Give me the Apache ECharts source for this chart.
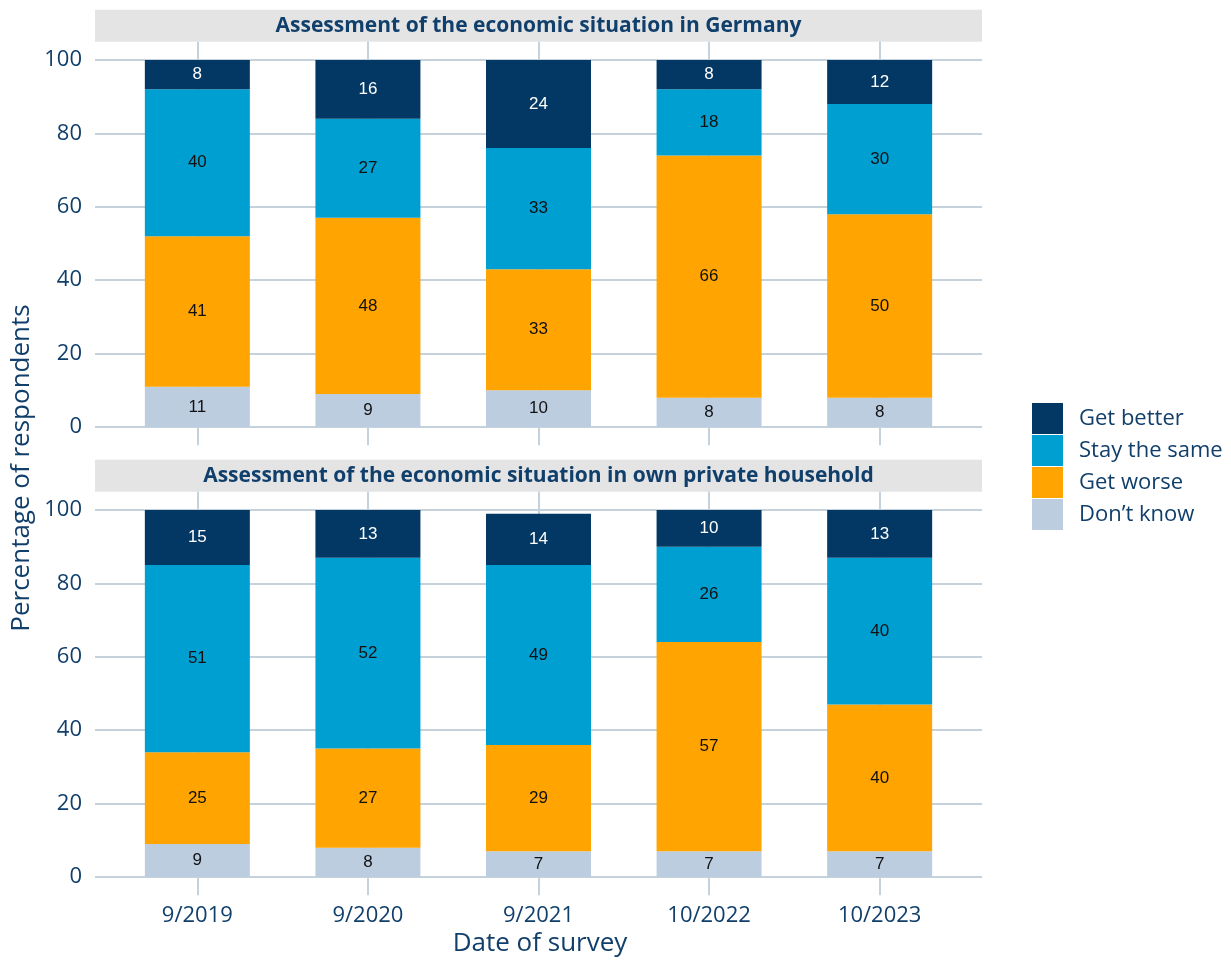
<!DOCTYPE html>
<html>
<head>
<meta charset="utf-8">
<script src="https://cdn.jsdelivr.net/npm/echarts@6/dist/echarts.min.js"></script>
<style>
  html, body { margin: 0; padding: 0; background: #ffffff; }
  #chart { width: 1231px; height: 963px; }
</style>
</head>
<body>
<div id="chart"></div>
<script>
// Survey waves and answer categories
const surveyDates = ['9/2019', '9/2020', '9/2021', '10/2022', '10/2023'];
const answerNames = ['Get better', 'Stay the same', 'Get worse', 'Don\u2019t know'];
const yTicks = [0, 20, 40, 60, 80, 100];
const xTicks = [0, 1, 2, 3, 4];
const panelTitles = [
  'Assessment of the economic situation in Germany',
  'Assessment of the economic situation in own private household'
];

// Economic situation in Germany (% of respondents)
const germanyBetter   = [8, 16, 24, 8, 12];
const germanySame     = [40, 27, 33, 18, 30];
const germanyWorse    = [41, 48, 33, 66, 50];
const germanyDontKnow = [11, 9, 10, 8, 8];

// Economic situation in own private household (% of respondents)
const householdBetter   = [15, 13, 14, 10, 13];
const householdSame     = [51, 52, 49, 26, 40];
const householdWorse    = [25, 27, 29, 57, 40];
const householdDontKnow = [9, 8, 7, 7, 7];

const colors = {
  'Get better': '#023863',
  'Stay the same': '#009fd2',
  'Get worse': '#ffa400',
  'Don\u2019t know': '#bdcde0'
};
const textColor = '#113f6b';
const gridColor = '#c6d2db';
const tickFont = 'Open Sans';

const panels = [
  { better: germanyBetter, same: germanySame, worse: germanyWorse, dontKnow: germanyDontKnow },
  { better: householdBetter, same: householdSame, worse: householdWorse, dontKnow: householdDontKnow }
];

// Panel geometry: y range -5..105, x range -0.6..4.6 (discrete padding of 0.6 band)
const panelLeft = 95, panelRight = 982;
const panelTops = [41.65, 491.65];
const panelHeight = 403.7;
const stripHeight = 32;
const band = (panelRight - panelLeft) / (xTicks.length + 0.2);

// Grids 0,1: panel frames with grid lines and tick labels
// Grids 2,3: category grids carrying the stacked bars, aligned to the frame bands
const grids = [];
panelTops.forEach(t => grids.push({
  left: panelLeft, width: panelRight - panelLeft, top: t, height: panelHeight
}));
panelTops.forEach(t => grids.push({
  left: panelLeft + 0.1 * band, width: band * xTicks.length, top: t, height: panelHeight
}));

const xAxes = [];
const yAxes = [];
panelTops.forEach((t, i) => {
  xAxes.push({
    type: 'value', gridIndex: i, min: -0.6, max: 4.6,
    axisLine: { show: false },
    axisTick: { show: false, customValues: xTicks },
    splitLine: { show: true, lineStyle: { color: gridColor, width: 2 } },
    axisLabel: {
      show: i === 1, customValues: xTicks, margin: 9,
      formatter: v => surveyDates[v],
      color: textColor, fontSize: 22, fontFamily: tickFont
    }
  });
  yAxes.push({
    type: 'value', gridIndex: i, min: -5, max: 105,
    axisLine: { show: false },
    axisTick: { show: false, customValues: yTicks },
    splitLine: { show: true, lineStyle: { color: gridColor, width: 2 } },
    axisLabel: {
      customValues: yTicks, margin: 13,
      color: textColor, fontSize: 22, fontFamily: tickFont
    }
  });
});
panelTops.forEach((t, i) => {
  xAxes.push({
    type: 'category', gridIndex: 2 + i, data: surveyDates, boundaryGap: true,
    axisLine: { show: false }, axisTick: { show: false },
    axisLabel: { show: false }, splitLine: { show: false }
  });
  yAxes.push({
    type: 'value', gridIndex: 2 + i, min: -5, max: 105,
    axisLine: { show: false }, axisTick: { show: false },
    axisLabel: { show: false }, splitLine: { show: false }
  });
});

function barSeries(name, values, panelIndex) {
  return {
    name: name, type: 'bar', stack: 'panel' + panelIndex,
    xAxisIndex: 2 + panelIndex, yAxisIndex: 2 + panelIndex,
    barWidth: 105,
    data: values,
    itemStyle: { color: colors[name] },
    label: {
      show: true, position: 'inside',
      color: name === 'Get better' ? '#ffffff' : '#111111',
      fontSize: 17, fontFamily: 'Liberation Sans'
    },
    emphasis: { disabled: true }
  };
}

const series = [];
panels.forEach((p, i) => {
  series.push(barSeries('Don\u2019t know', p.dontKnow, i));
  series.push(barSeries('Get worse', p.worse, i));
  series.push(barSeries('Stay the same', p.same, i));
  series.push(barSeries('Get better', p.better, i));
});

const graphics = [];
panelTops.forEach((t, i) => {
  graphics.push({
    type: 'rect', silent: true,
    shape: { x: panelLeft, y: t - stripHeight, width: panelRight - panelLeft, height: stripHeight },
    style: { fill: '#e4e4e4' }
  });
  graphics.push({
    type: 'text', silent: true,
    x: (panelLeft + panelRight) / 2, y: t - stripHeight / 2,
    style: {
      text: panelTitles[i], align: 'center', verticalAlign: 'middle',
      fill: textColor, font: 'bold 21px "Open Sans"'
    }
  });
});
graphics.push({
  type: 'text', silent: true, x: 22, y: 468, rotation: Math.PI / 2,
  style: {
    text: 'Percentage of respondents', align: 'center', verticalAlign: 'middle',
    fill: textColor, font: '26px "Open Sans"'
  }
});
graphics.push({
  type: 'text', silent: true, x: 540, y: 944,
  style: {
    text: 'Date of survey', align: 'center', verticalAlign: 'middle',
    fill: textColor, font: '26px "Open Sans"'
  }
});

const chart = echarts.init(document.getElementById('chart'), null, { renderer: 'canvas' });
chart.setOption({
  animation: false,
  backgroundColor: '#ffffff',
  grid: grids,
  xAxis: xAxes,
  yAxis: yAxes,
  legend: {
    data: answerNames,
    orient: 'vertical', left: 1032, top: 403,
    itemWidth: 31, itemHeight: 31, itemGap: 1, padding: 0,
    icon: 'rect',
    textStyle: { color: textColor, fontSize: 22, fontFamily: tickFont, padding: [0, 0, 0, 11] },
    selectedMode: false
  },
  series: series,
  graphic: graphics
});
</script>
</body>
</html>
